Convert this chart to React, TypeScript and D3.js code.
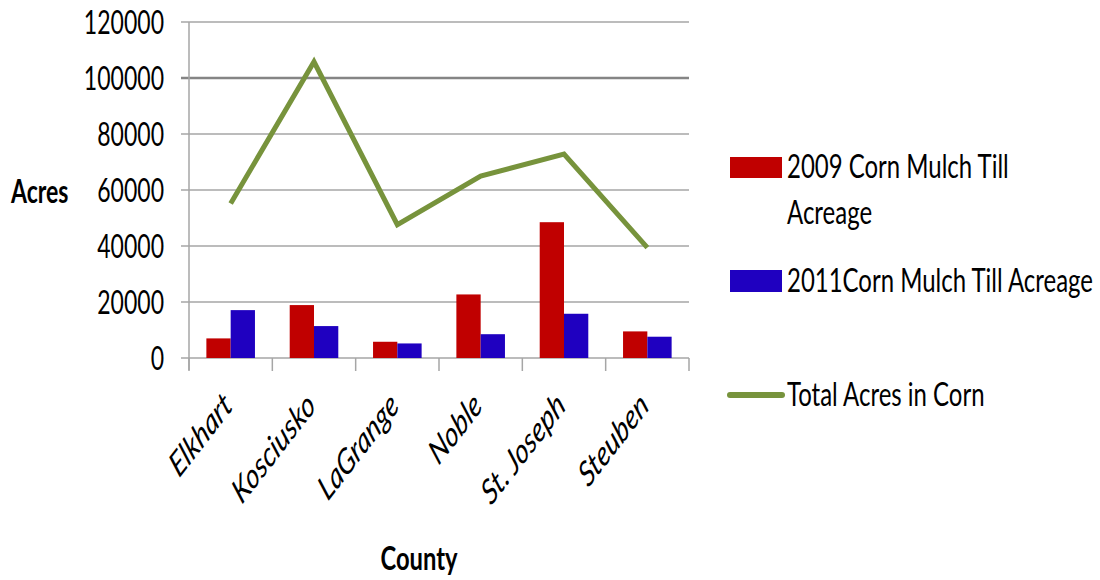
import React from "react";
import * as d3 from "d3";

const counties = ["Elkhart", "Kosciusko", "LaGrange", "Noble", "St. Joseph", "Steuben"];
const mulch2009 = [7000, 18900, 5800, 22700, 48500, 9500];
const mulch2011 = [17100, 11400, 5200, 8500, 15800, 7600];
const totalCorn = [55200, 105800, 47600, 65000, 72800, 39400];
const yTicks = [0, 20000, 40000, 60000, 80000, 100000, 120000];

const seriesNames = ["2009 Corn Mulch Till", "2011Corn Mulch Till Acreage", "Total Acres in Corn"];
const barColors = ["#C00000", "#1F00C0"];
const lineColor = "#77933C";

const W = 1100;
const H = 580;
const FONT = "Lato, 'Open Sans', sans-serif";
const SX = 0.72; // narrow glyph squeeze

export default function App() {
  const plot = { left: 189, right: 689, top: 22, bottom: 358 };

  const x0 = d3
    .scaleBand<string>()
    .domain(counties)
    .range([plot.left, plot.right])
    .paddingInner(0.417)
    .paddingOuter(0.2085);
  const x1 = d3.scaleBand<number>().domain([0, 1]).range([0, x0.bandwidth()]);
  const y = d3.scaleLinear().domain([0, 120000]).range([plot.bottom, plot.top]);

  const step = x0.step();
  const tickXs = d3.range(counties.length + 1).map((i) => plot.left + i * step);

  const line = d3
    .line<number>()
    .x((_, i) => (x0(counties[i]) as number) + x0.bandwidth() / 2)
    .y((d) => y(d));

  const txt = (
    x: number,
    yy: number,
    s: string,
    opts: { anchor?: string; bold?: boolean; italic?: boolean; rotate?: number; size?: number } = {}
  ) => (
    <text
      key={s + x + yy}
      transform={`translate(${x},${yy}) scale(${SX},1)${opts.rotate ? ` rotate(${opts.rotate})` : ""}`}
      textAnchor={opts.anchor || "start"}
      fontFamily={FONT}
      fontSize={opts.size || 32}
      fontWeight={opts.bold ? 700 : 400}
      fontStyle={opts.italic ? "italic" : "normal"}
      fill="#000"
    >
      {s}
    </text>
  );

  return (
    <svg
      width={W}
      height={H}
      style={{ position: "absolute", left: 0, top: 0, background: "#fff" }}
    >
      {/* gridlines (extend left as tick marks) */}
      {yTicks.map((t) => (
        <line
          key={"g" + t}
          x1={plot.left - 8}
          x2={plot.right}
          y1={y(t)}
          y2={y(t)}
          stroke={t === 100000 ? "#858585" : "#a6a6a6"}
          strokeWidth={t === 100000 ? 2.5 : 1.5}
        />
      ))}
      {/* y axis line */}
      <line x1={plot.left} x2={plot.left} y1={plot.top} y2={plot.bottom + 12} stroke="#a6a6a6" strokeWidth={1.5} />
      {/* category ticks */}
      {tickXs.map((tx, i) => (
        <line key={"t" + i} x1={tx} x2={tx} y1={plot.bottom} y2={plot.bottom + 13} stroke="#a6a6a6" strokeWidth={1.5} />
      ))}

      {/* y tick labels */}
      {yTicks.map((t) => txt(164, y(t) + 11.5, String(t), { anchor: "end" }))}

      {/* bars */}
      {counties.map((c, i) =>
        [mulch2009[i], mulch2011[i]].map((v, s) => (
          <rect
            key={c + s}
            x={(x0(c) as number) + (x1(s) as number)}
            y={y(v)}
            width={x1.bandwidth()}
            height={y(0) - y(v)}
            fill={barColors[s]}
          />
        ))
      )}

      {/* total corn line */}
      <path d={line(totalCorn) || ""} fill="none" stroke={lineColor} strokeWidth={5} strokeLinejoin="miter" />

      {/* category labels */}
      {counties.map((c) =>
        txt((x0(c) as number) + x0.bandwidth() / 2 + 3, 408, c, { anchor: "end", italic: true, rotate: -43, size: 35 })
      )}

      {/* axis titles */}
      {txt(11, 203, "Acres", { bold: true })}
      {txt(419, 570, "County", { bold: true, anchor: "middle", size: 33 })}

      {/* legend */}
      <rect x={730} y={157} width={52} height={21} fill={barColors[0]} />
      {txt(787, 178, seriesNames[0], { size: 33.3 })}
      {txt(787, 224, "Acreage", { size: 33.3 })}
      <rect x={730} y={270} width={52} height={22} fill={barColors[1]} />
      {txt(787, 292, seriesNames[1], { size: 33.3 })}
      <line x1={730} x2={782} y1={395} y2={395} stroke={lineColor} strokeWidth={6} strokeLinecap="round" />
      {txt(787, 406, seriesNames[2], { size: 33.3 })}
    </svg>
  );
}
